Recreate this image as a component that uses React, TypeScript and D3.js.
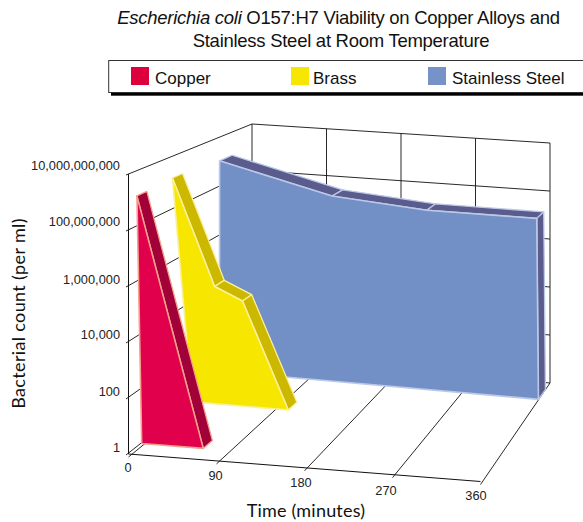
import * as d3 from "d3";

const timeTicks = [0, 90, 180, 270, 360];
const countTicks = [1, 100, 10000, 1000000, 100000000, 10000000000];

const copperTimes = [-5, 64];
const copperCounts = [1e9, 1];
const copperBase = [0, 64];

const brassTimes = [-24, 23, 54, 105];
const brassCounts = [5.6e8, 4e4, 1.3e4, 1];
const brassBase = [-2, 105];

const steelTimes = [-14, 118, 229, 358, 360];
const steelCounts = [6e8, 4.3e7, 2.1e7, 2e7, 1];
const steelBase = [-14, 360];

const legendNames = ["Copper", "Brass", "Stainless Steel"];
const legendColors = ["#dc003c", "#f7e600", "#7792c8"];

const panelStyles = [
  { face: "#e0004c", side: "#a10038", edge: "#f4a08c", depth: 0.107, thickness: 0.08 },
  { face: "#f7e600", side: "#cdb800", edge: "#fbf09a", depth: 0.53, thickness: 0.08 },
  { face: "#7390c6", side: "#5a5c8e", edge: "#bcc8e8", depth: 0.834, thickness: 0.1 },
];

const font = "'Liberation Sans', Arial, sans-serif";
const titleFont = "Lato, sans-serif";

const x = d3.scaleLinear().domain([0, 360]).range([0, 1]);
const y = d3.scaleLog().domain([1, 1e10]).range([0, 1]);

// box corners on screen, floor and top of the front and back edge
const floorFront = [d3.scaleLinear([0, 1], [128.5, 480.5]), d3.scaleLinear([0, 1], [454, 481.5])];
const floorBack = [d3.scaleLinear([0, 1], [252, 550]), d3.scaleLinear([0, 1], [356, 383])];
const topFront = [d3.scaleLinear([0, 1], [128.5, 480.5]), d3.scaleLinear([0, 1], [174, 195])];
const topBack = [d3.scaleLinear([0, 1], [252, 550]), d3.scaleLinear([0, 1], [124, 143])];

function project(time: number, count: number, depth: number): [number, number] {
  const t = x(time);
  const v = y(count);
  const px = floorFront[0](t) * (1 - depth) + floorBack[0](t) * depth;
  const floorY = floorFront[1](t) * (1 - depth) + floorBack[1](t) * depth;
  const topY = topFront[1](t) * (1 - depth) + topBack[1](t) * depth;
  return [px, floorY + (topY - floorY) * v];
}

const poly = (pts: [number, number][]) => pts.map((p) => p.join(",")).join(" ");

function Panel({ times, counts, base, style }: { times: number[]; counts: number[]; base: number[]; style: (typeof panelStyles)[number] }) {
  const d = style.depth;
  const front = times.map((t, i) => project(t, counts[i], d));
  const back = times.map((t, i) => project(t, counts[i], d + style.thickness));
  const face = [...front, project(base[1], 1, d), project(base[0], 1, d)];
  return (
    <g>
      {d3.pairs(d3.range(times.length)).map(([a, b]) => (
        <polygon
          key={a}
          points={poly([front[a], back[a], back[b], front[b]])}
          fill={style.side}
          stroke={style.edge}
          strokeWidth={1.3}
          strokeLinejoin="round"
        />
      ))}
      <polygon points={poly(face)} fill={style.face} stroke={style.edge} strokeWidth={1.6} strokeLinejoin="round" />
    </g>
  );
}

export default function App() {
  const grid = "#111";
  const timeLabelOffset = [[-0.5, 17.5], [-1, 19.3], [-3.5, 19.7], [-6.5, 19.9], [-4.5, 18.7]];
  const countLabelOffset = [-2.5, -2, -3.5, -2.5, -4.5, -4.5];
  return (
    <svg
      width={583}
      height={522}
      style={{ position: "absolute", left: 0, top: 0, background: "#fff" }}
      fontFamily={font}
    >
      <text x={338.5} y={23.5} textAnchor="middle" fontSize={18.5} fill="#111" letterSpacing={-0.27}>
        <tspan fontStyle="italic">Escherichia coli</tspan> O157:H7 Viability on Copper Alloys and
      </text>
      <text x={341} y={46.5} textAnchor="middle" fontSize={18.5} fill="#111" letterSpacing={-0.27}>
        Stainless Steel at Room Temperature
      </text>

      {/* legend */}
      <rect x={111} y={92} width={480} height={3.7} fill="#000" />
      <rect x={108.7} y={60.5} width={480} height={32} fill="#fff" stroke="#333" strokeWidth={1} />
      {legendNames.map((name, i) => {
        const sx = [131, 291, 428][i];
        return (
          <g key={name}>
            <rect x={sx} y={67} width={18} height={18} fill={legendColors[i]} />
            <text x={sx + [24, 22, 24][i]} y={84} fontSize={17} fill="#111">
              {name}
            </text>
          </g>
        );
      })}

      {/* back wall */}
      {timeTicks.map((t) => {
        const a = project(t, 1e10, 1);
        const b = project(t, 1, 1);
        return <line key={t} x1={a[0]} y1={a[1]} x2={b[0]} y2={b[1]} stroke={grid} strokeWidth={0.9} />;
      })}
      {countTicks.map((c) => {
        const a = project(0, c, 1);
        const b = project(360, c, 1);
        const f = project(0, c, 0);
        return (
          <g key={c} stroke={grid} strokeWidth={0.9}>
            <line x1={a[0]} y1={a[1]} x2={b[0]} y2={b[1]} />
            <line x1={f[0] - 2.5} y1={f[1] + 1} x2={a[0]} y2={a[1]} />
          </g>
        );
      })}

      {/* floor */}
      {timeTicks.map((t) => {
        const a = project(t, 1, 0);
        const b = project(t, 1, 1);
        return <line key={t} x1={a[0]} y1={a[1] + 3} x2={b[0]} y2={b[1]} stroke={grid} strokeWidth={0.9} />;
      })}
      {(() => {
        const a = project(0, 1, 0);
        const b = project(360, 1, 0);
        return <line x1={a[0]} y1={a[1]} x2={b[0]} y2={b[1]} stroke={grid} strokeWidth={1} />;
      })()}
      {(() => {
        const a = project(0, 1, 0);
        const b = project(0, 1e10, 0);
        return <line x1={a[0]} y1={a[1]} x2={b[0]} y2={b[1]} stroke={grid} strokeWidth={1} />;
      })()}

      <Panel times={steelTimes} counts={steelCounts} base={steelBase} style={panelStyles[2]} />
      <Panel times={brassTimes} counts={brassCounts} base={brassBase} style={panelStyles[1]} />
      <Panel times={copperTimes} counts={copperCounts} base={copperBase} style={panelStyles[0]} />

      {/* tick labels */}
      {countTicks.map((c, i) => {
        const f = project(0, c, 0);
        return (
          <text key={c} x={120} y={f[1] + countLabelOffset[i]} textAnchor="end" fontSize={12.8} fill="#222">
            {d3.format(",")(c)}
          </text>
        );
      })}
      {timeTicks.map((t, i) => {
        const a = project(t, 1, 0);
        return (
          <text key={t} x={a[0] + timeLabelOffset[i][0]} y={a[1] + timeLabelOffset[i][1]} textAnchor="middle" fontSize={12.8} fill="#222">
            {t}
          </text>
        );
      })}

      <text transform="translate(24.5,313.5) rotate(-90)" textAnchor="middle" fontSize={18} fontFamily={titleFont} fill="#111" letterSpacing={0.35}>
        Bacterial count (per ml)
      </text>
      <text x={306} y={516.5} textAnchor="middle" fontSize={18} fontFamily={titleFont} fill="#111" letterSpacing={0.2}>
        Time (minutes)
      </text>
    </svg>
  );
}
